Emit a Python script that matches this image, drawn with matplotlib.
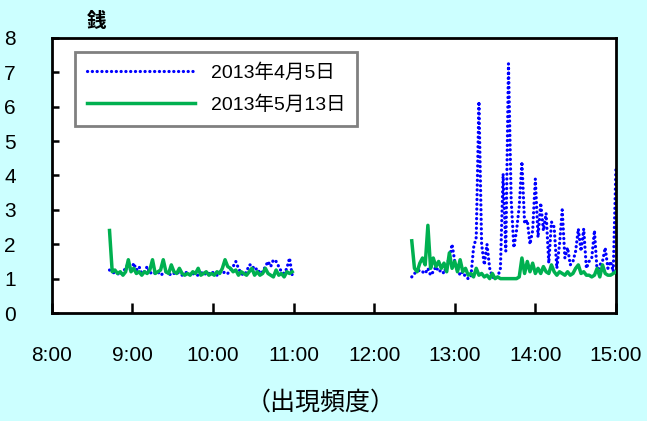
import numpy as np
import matplotlib
matplotlib.use("Agg")
import matplotlib.pyplot as plt
from matplotlib import font_manager

# ---------------- data ----------------
series_labels = ["2013年4月5日", "2013年5月13日"]
tick_labels = ["8:00", "9:00", "10:00", "11:00", "12:00", "13:00", "14:00", "15:00"]
y_ticks = [0, 1, 2, 3, 4, 5, 6, 7, 8]

# minutes after 8:00, sampled every 2 minutes
am_minutes = list(range(43, 181, 2))      # 8:43 - 11:00
pm_minutes = list(range(268, 421, 2))     # 12:28 - 15:00

apr_am = [1.25, 1.2, 1.15, 1.15, 1.1, 1.2, 1.3, 1.45, 1.2, 1.45, 1.25, 1.35, 1.15, 1.2, 1.35,
          1.15, 1.2, 1.15, 1.2, 1.1, 1.15, 1.2, 1.15, 1.1, 1.15, 1.2, 1.15, 1.1, 1.15, 1.2,
          1.1, 1.15, 1.1, 1.1, 1.15, 1.2, 1.1, 1.15, 1.2, 1.15, 1.1, 1.2, 1.15, 1.2, 1.15,
          1.25, 1.35, 1.5, 1.3, 1.15, 1.1, 1.2, 1.4, 1.4, 1.25, 1.3, 1.15, 1.2, 1.35, 1.5,
          1.35, 1.55, 1.5, 1.35, 1.2, 1.15, 1.3, 1.6, 1.1]
may_am = [2.4, 1.2, 1.25, 1.15, 1.2, 1.1, 1.2, 1.55, 1.2, 1.3, 1.15, 1.2, 1.1, 1.2, 1.15,
          1.25, 1.55, 1.15, 1.2, 1.25, 1.55, 1.2, 1.15, 1.4, 1.2, 1.15, 1.3, 1.15, 1.1, 1.15,
          1.1, 1.2, 1.15, 1.3, 1.1, 1.15, 1.2, 1.1, 1.15, 1.1, 1.2, 1.15, 1.3, 1.55, 1.35,
          1.3, 1.2, 1.25, 1.1, 1.2, 1.15, 1.1, 1.2, 1.3, 1.1, 1.2, 1.1, 1.15, 1.3, 1.15,
          1.1, 1.05, 1.25, 1.1, 1.15, 1.05, 1.2, 1.15, 1.2]
apr_pm = [1.05, 1.15, 1.2, 1.25, 1.2, 1.15, 1.3, 1.1, 1.2, 1.35, 1.2, 1.25, 1.15, 1.4, 1.6,
          2.0, 1.5, 1.3, 1.1, 1.2, 1.05, 1.0, 1.05, 1.9, 2.2, 6.15, 2.0, 1.4, 2.0, 1.3,
          1.05, 1.0, 1.05, 1.3, 4.05, 1.8, 7.25, 3.3, 1.9, 2.4, 3.1, 4.4, 2.6, 2.7, 2.0,
          2.4, 3.9, 2.2, 3.2, 2.4, 2.9, 1.45, 2.65, 2.5, 1.3, 2.0, 3.0, 1.6, 1.9, 1.4,
          1.5, 1.8, 2.45, 1.8, 2.45, 1.3, 1.5, 1.6, 2.4, 1.2, 1.4, 1.5, 1.9, 1.3, 1.5,
          1.2, 4.25]
may_pm = [2.1, 1.3, 1.2, 1.45, 1.6, 1.4, 2.55, 1.3, 1.6, 1.35, 1.5, 1.3, 1.45, 1.2, 1.75,
          1.3, 1.5, 1.2, 1.55, 1.2, 1.3, 1.1, 1.15, 1.05, 1.3, 1.1, 1.15, 1.05, 1.1, 1.0,
          1.15, 1.0, 1.05, 1.0, 1.0, 1.0, 1.0, 1.0, 1.0, 1.0, 1.05, 1.6, 1.15, 1.5, 1.2,
          1.45, 1.15, 1.3, 1.15, 1.35, 1.2, 1.15, 1.4, 1.2, 1.1, 1.2, 1.15, 1.1, 1.2, 1.1,
          1.15, 1.3, 1.4, 1.15, 1.2, 1.1, 1.1, 1.05, 1.1, 1.3, 1.05, 1.4, 1.15, 1.1, 1.1,
          1.15, 1.2]

# ---------------- fonts ----------------
avail = {f.name for f in font_manager.fontManager.ttflist}
num_font = "Liberation Sans Narrow" if "Liberation Sans Narrow" in avail else "Liberation Sans"
fam = [num_font, "Noto Sans CJK JP", "DejaVu Sans"]
cjk = ["Noto Sans CJK JP", "DejaVu Sans"]
plt.rcParams["font.family"] = fam

bg = "#CCFFFF"
fig = plt.figure(figsize=(6.47, 4.21), dpi=100, facecolor=bg)
ax = fig.add_axes([0.080, 0.2565, 0.872, 0.6533])
ax.set_facecolor("white")

x_all = am_minutes + [np.nan] + pm_minutes
apr = apr_am + [np.nan] + apr_pm
may = may_am + [np.nan] + may_pm

ax.plot(x_all, apr, color="#0000FF", linestyle=(0, (0.05, 1.45)), linewidth=2.3,
        dash_capstyle="round", label=series_labels[0], zorder=2)
ax.plot(x_all, may, color="#00B050", linestyle="-", linewidth=2.5,
        label=series_labels[1], zorder=3)

ax.set_xlim(0, 420)
ax.set_ylim(0, 8)
ax.set_xticks([60 * i for i in range(len(tick_labels))])
ax.set_xticklabels(tick_labels, fontsize=15)
ax.set_yticks(y_ticks)
ax.set_yticklabels([str(v) for v in y_ticks], fontsize=15)
ax.tick_params(axis="x", direction="in", length=7, width=1.8, pad=24, colors="black")
ax.tick_params(axis="y", direction="in", length=5, width=1.8, pad=26, colors="black")
for s in ax.spines.values():
    s.set_linewidth(2)
    s.set_color("black")

leg = ax.legend(loc="upper left", bbox_to_anchor=(0.041, 0.95), handlelength=5.6,
                handletextpad=0.8, borderpad=0.6, borderaxespad=0, labelspacing=0.7,
                fancybox=False, prop={"family": fam, "size": 14}, framealpha=1)
leg.get_frame().set_edgecolor("#808080")
leg.get_frame().set_linewidth(2)

fig.text(0.150, 0.950, "銭", fontsize=14, family=cjk, ha="center", va="center",
         fontweight="bold")
fig.text(0.495, 0.043, "（出現頻度）", fontsize=18, family=cjk, ha="center", va="center")

fig.savefig("out.png", dpi=100, facecolor=bg)
